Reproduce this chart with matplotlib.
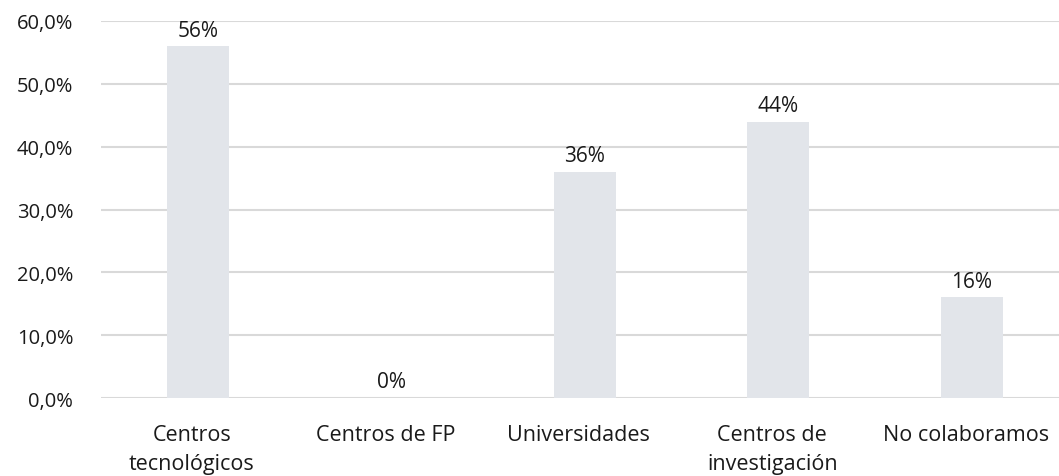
import matplotlib
matplotlib.use("Agg")
import matplotlib.pyplot as plt
import matplotlib.transforms as mtransforms

categories = ["Centros\ntecnológicos", "Centros de FP", "Universidades", "Centros de\ninvestigación", "No colaboramos"]
values = [56, 0, 36, 44, 16]
yticks = [0, 10, 20, 30, 40, 50, 60]
ytick_labels = ["0,0%", "10,0%", "20,0%", "30,0%", "40,0%", "50,0%", "60,0%"]

plt.rcParams['font.family'] = ['Open Sans', 'DejaVu Sans']

fig = plt.figure(figsize=(10.59, 4.77), dpi=100)
ax = fig.add_axes([101/1059, 1 - 399/477, 1 - 101/1059, (399 - 22)/477])

x = list(range(len(categories)))
ax.bar(x, values, width=0.32, color="#e2e5ea", zorder=2)
for xi, v in zip(x, values):
    ax.annotate(f"{v}%", (xi, v), xytext=(0, 4), textcoords="offset points",
                ha="center", va="bottom", fontsize=15, color="#1a1a1a", zorder=3)

ax.set_xlim(-0.5, 4.45)
ax.set_ylim(0, 60)
ax.set_yticks(yticks)
ax.set_yticklabels(ytick_labels)
ax.set_xticks(x)
ax.set_xticklabels(categories, linespacing=1.5, va="top")
ax.tick_params(axis="both", length=0, colors="#1a1a1a")
ax.tick_params(axis="y", pad=20, labelsize=14.5)
ax.tick_params(axis="x", pad=19, labelsize=15.5)
offset = mtransforms.ScaledTranslation(-6/100, 0, fig.dpi_scale_trans)
for lbl in ax.get_xticklabels():
    lbl.set_transform(lbl.get_transform() + offset)
ax.grid(axis="y", color="#d9d9d9", linewidth=1.5, zorder=1)
for s in ax.spines.values():
    s.set_visible(False)

fig.savefig("out.png", dpi=100)
